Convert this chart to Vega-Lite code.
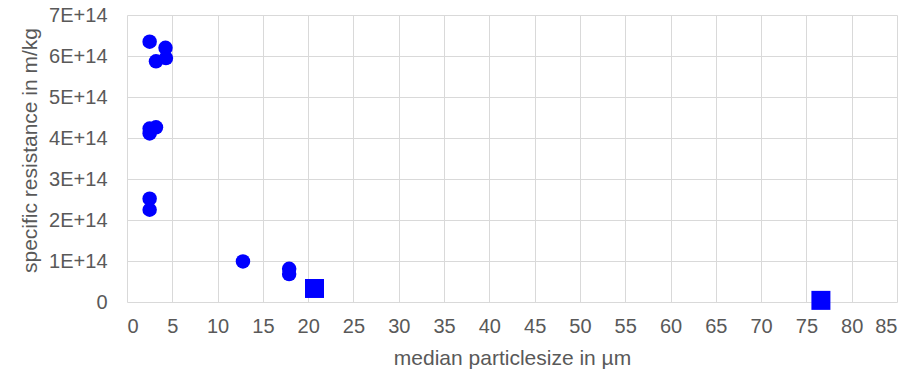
{
  "$schema": "https://vega.github.io/schema/vega-lite/v6.json",
  "width": 770,
  "height": 287,
  "autosize": "none",
  "padding": {"left": 127, "top": 15, "right": 20, "bottom": 72},
  "background": "white",
  "config": {
    "view": {"stroke": null},
    "font": "Liberation Sans",
    "axis": {
      "domain": false,
      "ticks": false,
      "gridColor": "#d9d9d9",
      "gridWidth": 1,
      "labelColor": "#595959",
      "labelFont": "Liberation Sans",
      "labelFontSize": 20,
      "titleColor": "#595959",
      "titleFont": "Liberation Sans",
      "titleFontSize": 21,
      "titleFontWeight": "normal"
    }
  },
  "data": {
    "values": [
      {"size": 2.5, "resistance": 6.35e14, "shape": "circle"},
      {"size": 4.25, "resistance": 6.2e14, "shape": "circle"},
      {"size": 4.3, "resistance": 5.95e14, "shape": "circle"},
      {"size": 3.2, "resistance": 5.87e14, "shape": "circle"},
      {"size": 2.5, "resistance": 4.23e14, "shape": "circle"},
      {"size": 3.2, "resistance": 4.26e14, "shape": "circle"},
      {"size": 2.5, "resistance": 4.11e14, "shape": "circle"},
      {"size": 2.5, "resistance": 2.52e14, "shape": "circle"},
      {"size": 2.5, "resistance": 2.25e14, "shape": "circle"},
      {"size": 12.8, "resistance": 0.99e14, "shape": "circle"},
      {"size": 17.9, "resistance": 0.81e14, "shape": "circle"},
      {"size": 17.9, "resistance": 0.68e14, "shape": "circle"},
      {"size": 20.7, "resistance": 0.33e14, "shape": "square"},
      {"size": 76.6, "resistance": 0.04e14, "shape": "square"}
    ]
  },
  "layer": [
    {
      "transform": [{"filter": "datum.shape === 'circle'"}],
      "mark": {"type": "point", "shape": "circle", "filled": true, "color": "#0000ff", "opacity": 1, "size": 210},
      "encoding": {
        "x": {"field": "size", "type": "quantitative", "scale": {"domain": [0, 85], "nice": false, "zero": true},
          "axis": {"values": [0,5,10,15,20,25,30,35,40,45,50,55,60,65,70,75,80,85], "title": "median particlesize in µm", "labelPadding": 14, "titlePadding": 11}},
        "y": {"field": "resistance", "type": "quantitative", "scale": {"domain": [0, 7e14], "nice": false},
          "axis": {"values": [0,1e14,2e14,3e14,4e14,5e14,6e14,7e14], "labelExpr": "datum.value == 0 ? '0' : round(datum.value / 1e14) + 'E+14'", "title": "specific resistance in m/kg", "labelPadding": 20, "titlePadding": 8, "titleY": 135}}
      }
    },
    {
      "transform": [{"filter": "datum.shape === 'square'"}],
      "mark": {"type": "point", "shape": "square", "filled": true, "color": "#0000ff", "opacity": 1, "size": 361},
      "encoding": {
        "x": {"field": "size", "type": "quantitative"},
        "y": {"field": "resistance", "type": "quantitative"}
      }
    }
  ]
}
